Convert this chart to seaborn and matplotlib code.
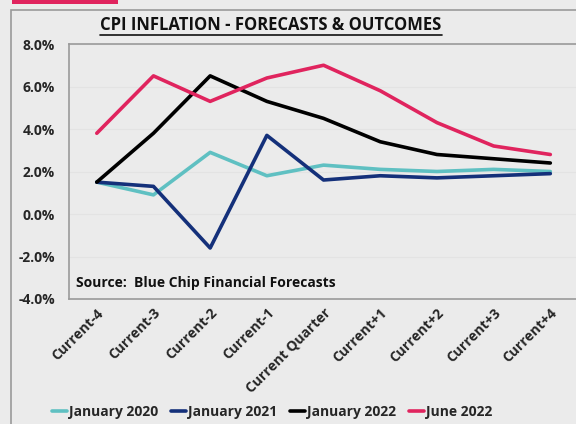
import matplotlib
matplotlib.use("Agg")
import matplotlib.pyplot as plt
import seaborn as sns
import pandas as pd
from matplotlib.patches import Rectangle
from matplotlib.lines import Line2D
from matplotlib.ticker import FuncFormatter

categories = ["Current-4", "Current-3", "Current-2", "Current-1", "Current Quarter",
              "Current+1", "Current+2", "Current+3", "Current+4"]
jan_2020 = [1.5, 0.9, 2.9, 1.8, 2.3, 2.1, 2.0, 2.1, 2.0]
jan_2021 = [1.5, 1.3, -1.6, 3.7, 1.6, 1.8, 1.7, 1.8, 1.9]
jan_2022 = [1.5, 3.8, 6.5, 5.3, 4.5, 3.4, 2.8, 2.6, 2.4]
jun_2022 = [3.8, 6.5, 5.3, 6.4, 7.0, 5.8, 4.3, 3.2, 2.8]
series_names = ["January 2020", "January 2021", "January 2022", "June 2022"]
colors = ["#5fc0c2", "#14307a", "#000000", "#e0245e"]

rows = []
for name, vals in zip(series_names, [jan_2020, jan_2021, jan_2022, jun_2022]):
    for i, v in enumerate(vals):
        rows.append({"pos": i, "cat": categories[i], "series": name, "value": v})
df = pd.DataFrame(rows)

sns.set_theme(style="white")
plt.rcParams['font.family'] = ['Open Sans', 'DejaVu Sans']

bg = "#ebebeb"
fig = plt.figure(figsize=(5.76, 4.24), dpi=100, facecolor=bg)
ax = fig.add_axes([69/576, 1 - 299/424, (590 - 69)/576, (299 - 44)/424])
ax.set_facecolor(bg)

sns.lineplot(data=df, x="pos", y="value", hue="series", hue_order=series_names,
             palette=colors, linewidth=2.6, ax=ax, legend=False, sort=False)

ax.set_xlim(-0.49, 8.7)
ax.set_ylim(-4, 8)
ax.set_yticks([-4, -2, 0, 2, 4, 6, 8])
ax.yaxis.set_major_formatter(FuncFormatter(lambda v, p: f"{v:.1f}%"))
ax.set_xticks(range(len(categories)))
ax.set_xticklabels(categories, rotation=45, ha="right", rotation_mode="anchor",
                   fontsize=10, fontweight="bold")
for lab in ax.get_yticklabels():
    lab.set_fontsize(10)
    lab.set_fontweight("bold")
ax.tick_params(axis="y", pad=10, length=0)
ax.tick_params(axis="x", pad=5, length=0)
ax.set_xlabel("")
ax.set_ylabel("")
ax.yaxis.grid(True, color="#e3e3e3", linewidth=0.8)
for s in ax.spines.values():
    s.set_color("#9a9a9a")
    s.set_linewidth(1.2)

ax.text(0.014, 0.035, "Source:  Blue Chip Financial Forecasts", transform=ax.transAxes,
        fontsize=10, fontweight="bold", color="#111111", ha="left", va="bottom")

fig.text(271/576, 1 - 25/424, "CPI INFLATION - FORECASTS & OUTCOMES",
         ha="center", va="center", fontsize=12, fontweight="bold", color="#111111")
# underline
fig.add_artist(Line2D([100/576, 442/576], [1 - 35/424, 1 - 35/424],
                      color="#111111", linewidth=1.2, transform=fig.transFigure))

# outer frame
fig.add_artist(Rectangle((11/576, -0.01), 1.0, 1 - 10/424 + 0.01, transform=fig.transFigure,
                         fill=False, edgecolor="#9a9a9a", linewidth=1.2))
# red accent bar
fig.add_artist(Rectangle((12/576, 1 - 4/424), (118 - 12)/576, 4/424, transform=fig.transFigure,
                         facecolor="#e0245e", edgecolor="none"))

handles = [Line2D([0], [0], color=c, linewidth=2.6) for c in colors]
fig.legend(handles, series_names, loc="center", bbox_to_anchor=(272/576, 1 - 412/424),
           ncol=4, frameon=False, handlelength=1.1, handletextpad=0.15,
           columnspacing=0.9, prop={"weight": "bold", "size": 10})

fig.savefig("out.png", dpi=100, facecolor=bg)
